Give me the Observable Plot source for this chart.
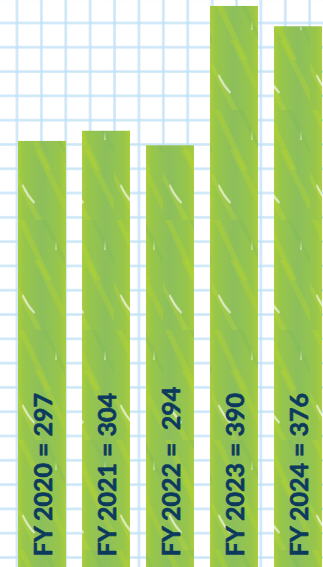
<!DOCTYPE html>
<html>
<head>
<meta charset="utf-8">
<script src="https://cdn.jsdelivr.net/npm/d3@7"></script>
<script src="https://cdn.jsdelivr.net/npm/@observablehq/plot@0.6"></script>
<style>
  html, body { margin: 0; padding: 0; background: #fff; }
  #chart {
    width: 323px; height: 567px; overflow: hidden;
    background-color: #fff;
    background-image:
      linear-gradient(to right, rgba(200,229,248,0.5) 0px, rgba(190,224,246,0.8) 1px, rgba(190,224,246,0.8) 2px, rgba(200,229,248,0.5) 3px, transparent 3px),
      linear-gradient(to bottom, rgba(200,229,248,0.5) 0px, rgba(190,224,246,0.8) 1px, rgba(190,224,246,0.8) 2px, rgba(200,229,248,0.5) 3px, transparent 3px);
    background-size: 24.4px 24.3px;
    background-position: 15.5px 21.5px;
  }
  #chart svg { display: block; }
</style>
</head>
<body>
<div id="chart"></div>
<script>
const years = ["FY 2020", "FY 2021", "FY 2022", "FY 2023", "FY 2024"];
const values = [297, 304, 294, 390, 376];
const labels = ["FY 2020 = 297", "FY 2021 = 304", "FY 2022 =  294", "FY 2023 = 390", "FY 2024 = 376"];

const data = years.map((y, i) => ({year: y, value: values[i], label: labels[i]}));

const plot = Plot.plot({
  width: 323,
  height: 567,
  marginTop: 0, marginRight: 0, marginBottom: 0, marginLeft: 0,
  style: {background: "transparent", overflow: "hidden"},
  x: {domain: years, range: [16, 323.8], paddingInner: 0.243, paddingOuter: 0, axis: null},
  y: {domain: [0, 394.1], range: [572, 0], axis: null},
  marks: [
    Plot.barY(data, {x: "year", y: "value", fill: "url(#grassBase)"}),
    Plot.barY(data, {x: "year", y: "value", fill: "url(#grassStripes)"}),
    Plot.text(data, {
      x: "year", text: "label", frameAnchor: "bottom",
      rotate: -90, textAnchor: "start", lineAnchor: "middle",
      dy: -11, dx: 1.5,
      fill: "#0b3a5e", stroke: "#0b3a5e", strokeWidth: 0.6,
      fontSize: 25, fontWeight: 700,
      fontFamily: "Lato, 'Open Sans', sans-serif"
    })
  ]
});

const svg = d3.select(plot);
const defs = svg.insert("defs", ":first-child");
const g = defs.append("linearGradient").attr("id", "grassBase")
  .attr("x1", "0").attr("x2", "1").attr("y1", "0").attr("y2", "0");
[[0, "#a9cd3c"], [0.12, "#98c64a"], [0.5, "#8cbf5c"], [0.88, "#98c64a"], [1, "#a9cd3c"]]
  .forEach(([o, c]) => g.append("stop").attr("offset", o).attr("stop-color", c));

const p = defs.append("pattern").attr("id", "grassStripes")
  .attr("patternUnits", "userSpaceOnUse").attr("width", 49).attr("height", 110)
  .attr("x", 16).attr("y", 0);
p.append("path").attr("d", "M2,0 L30,60 L36,60 L8,0 Z").attr("fill", "#b4d430").attr("opacity", 0.4);
p.append("path").attr("d", "M18,40 L48,100 L49,100 L49,90 L24,40 Z").attr("fill", "#b4d430").attr("opacity", 0.35);
p.append("path").attr("d", "M0,70 L20,110 L26,110 L0,62 Z").attr("fill", "#c0dc3a").attr("opacity", 0.3);
p.append("path").attr("d", "M26,0 L49,45 L49,38 L31,0 Z").attr("fill", "#7fb85a").attr("opacity", 0.35);
p.append("path").attr("d", "M7,74 Q12,84 19,92 L18,94 Q10,86 6,76 Z").attr("fill", "#ffffff").attr("opacity", 0.6);
p.append("path").attr("d", "M40,20 L41,30 L39,30 Z").attr("fill", "#f0f8d0").attr("opacity", 0.5);

document.getElementById("chart").appendChild(plot);
</script>
</body>
</html>
